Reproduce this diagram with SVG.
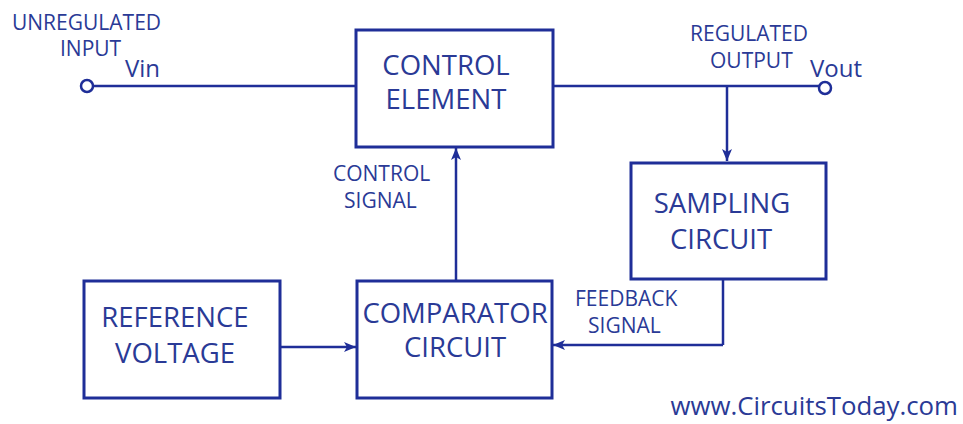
<svg xmlns="http://www.w3.org/2000/svg" width="963" height="424" viewBox="0 0 963 424">
<style>
.box{fill:#fff;stroke:#1f2e98;stroke-width:3}
.ln{fill:none;stroke:#1f2e98;stroke-width:2.5}
.bt{font-family:"Open Sans",sans-serif;font-size:27.5px;fill:#2a3a96;text-anchor:middle}
.lb{font-family:"Open Sans",sans-serif;font-size:21px;fill:#2a3a96}
.v{font-family:"Open Sans",sans-serif;font-size:24px;fill:#2a3a96}
.web{font-family:"Open Sans",sans-serif;font-size:25.8px;fill:#2a3a96;text-anchor:end}
</style>
<defs>
<marker id="ah" viewBox="0 0 12 10" refX="12" refY="5" markerWidth="12" markerHeight="10" markerUnits="userSpaceOnUse" orient="auto">
<path d="M0,0 L12,5 L0,10 L3,5 Z" fill="#1f2e98"/>
</marker>
</defs>
<rect width="963" height="424" fill="#fff"/>
<g id="connectors">
<circle cx="87" cy="86" r="6" class="ln" stroke-width="3"/>
<line x1="93" y1="86" x2="356" y2="86" class="ln"/>
<line x1="553" y1="86" x2="819" y2="86" class="ln"/>
<circle cx="825" cy="88" r="6" class="ln" stroke-width="3"/>
<line x1="727" y1="86" x2="727" y2="161" class="ln" marker-end="url(#ah)"/>
<line x1="723" y1="279" x2="723" y2="345" class="ln"/>
<line x1="723" y1="345" x2="553" y2="345" class="ln" marker-end="url(#ah)"/>
<line x1="280" y1="347" x2="356" y2="347" class="ln" marker-end="url(#ah)"/>
<line x1="456" y1="281" x2="456" y2="148" class="ln" marker-end="url(#ah)"/>
</g>
<g id="control-element">
<rect x="356" y="30" width="197" height="117" class="box"/>
<text x="446" y="75" class="bt">CONTROL</text>
<text x="446" y="109" class="bt">ELEMENT</text>
</g>
<g id="sampling-circuit">
<rect x="631" y="163" width="195" height="116" class="box"/>
<text x="722" y="213" class="bt">SAMPLING</text>
<text x="721" y="249" class="bt">CIRCUIT</text>
</g>
<g id="reference-voltage">
<rect x="84" y="281" width="196" height="117" class="box"/>
<text x="175" y="327" class="bt">REFERENCE</text>
<text x="175" y="363" class="bt">VOLTAGE</text>
</g>
<g id="comparator-circuit">
<rect x="357" y="281" width="195" height="117" class="box"/>
<text x="455" y="323" class="bt">COMPARATOR</text>
<text x="455" y="357" class="bt">CIRCUIT</text>
</g>
<g id="labels">
<text x="12" y="30" class="lb">UNREGULATED</text>
<text x="60" y="56" class="lb">INPUT</text>
<text x="125" y="77" class="v">Vin</text>
<text x="690" y="41" class="lb">REGULATED</text>
<text x="710" y="68" class="lb">OUTPUT</text>
<text x="810" y="77" class="v">Vout</text>
<text x="333" y="181" class="lb">CONTROL</text>
<text x="344" y="208" class="lb">SIGNAL</text>
<text x="575" y="306" class="lb">FEEDBACK</text>
<text x="588" y="333" class="lb">SIGNAL</text>
<text x="958" y="415" class="web">www.CircuitsToday.com</text>
</g>
</svg>
